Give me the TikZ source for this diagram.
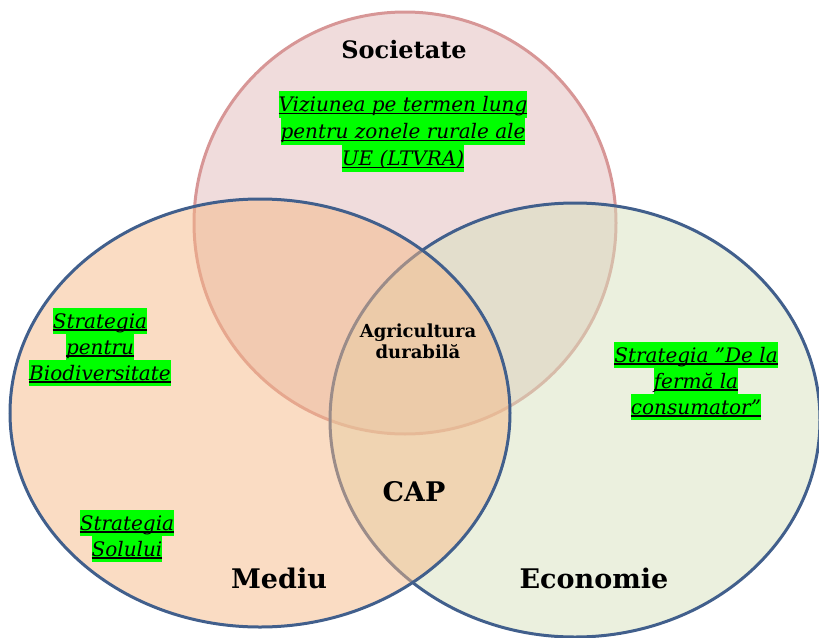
\documentclass[tikz,border=0pt]{standalone}
\usepackage{fontspec}
\setmainfont{DejaVu Serif}
\definecolor{socfill}{RGB}{225,185,185}
\definecolor{socline}{RGB}{215,150,150}
\definecolor{medfill}{RGB}{245,185,135}
\definecolor{ecofill}{RGB}{215,225,189}
\definecolor{setline}{RGB}{65,95,140}
\definecolor{hlgreen}{RGB}{0,255,0}
\newsavebox{\hlbox}
\newlength{\hlwd}
\newcommand{\hl}[2][1.3em]{{\setlength{\fboxsep}{0pt}\sbox{\hlbox}{#2}\setlength{\hlwd}{\wd\hlbox}%
  \colorbox{hlgreen}{\rule[-0.3em]{0pt}{#1}\rlap{\rule[-2.5pt]{\hlwd}{1.2pt}}\usebox{\hlbox}}}}
\tikzset{
  setshape/.style={line width=3pt, fill opacity=0.5},
  settitle/.style={font=\fontsize{27}{32}\selectfont\bfseries},
  strat/.style={align=center, inner sep=0pt,
    font=\fontsize{20}{1}\selectfont\itshape\setlength{\lineskip}{0pt}\setlength{\lineskiplimit}{0pt}}
}
\begin{document}
\begin{tikzpicture}[x=1pt,y=-1pt]
\useasboundingbox (0,0) rectangle (819,637);
% the three sets
\draw[setshape, draw=socline, fill=socfill] (405,223) circle (211);
\draw[setshape, draw=setline, fill=ecofill] (575,420) ellipse [x radius=245, y radius=217];
\draw[setshape, draw=setline, fill=medfill] (260,413) ellipse [x radius=250, y radius=214];
% set names
\node[settitle, font=\fontsize{24}{28}\selectfont\bfseries] (soc) at (404,50) {Societate};
\node[settitle] (med) at (279,578) {Mediu};
\node[settitle] (eco) at (594,578) {Economie};
% centre
\node[align=center, font=\fontsize{18}{21}\selectfont\bfseries] (agri) at (418,341) {Agricultura\\durabilă};
\node[settitle] (cap) at (414,492) {CAP};
% strategies
\node[strat] (ltvra) at (403,131) {\hl[1.35em]{Viziunea pe termen lung}\\\hl[1.35em]{pentru zonele rurale ale}\\\hl[1.35em]{UE (LTVRA)}};
\node[strat] (bio) at (100,347) {\hl{Strategia}\\\hl{pentru}\\\hl{Biodiversitate}};
\node[strat] (sol) at (127,536) {\hl{Strategia}\\\hl{Solului}};
\node[strat] (f2f) at (696,381) {\hl{Strategia ”De la}\\\hl{fermă la}\\\hl{consumator”}};
\end{tikzpicture}
\end{document}
